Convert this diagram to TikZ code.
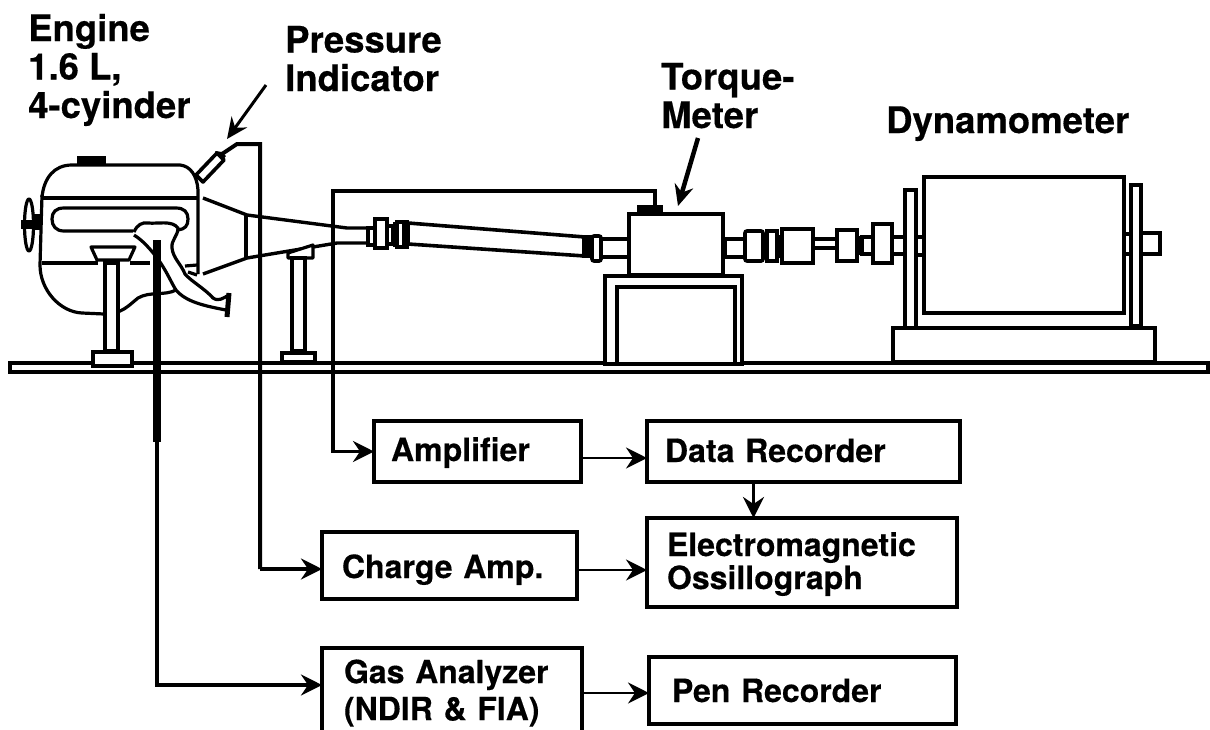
\documentclass[tikz,border=0pt]{standalone}
\usepackage{fontspec}
\setmainfont[BoldFeatures={FakeBold=0.35}]{TeX Gyre Heros}
\usetikzlibrary{arrows.meta}
\tikzset{
  boxnode/.style n args={3}{draw=black,line width=3.6pt,rectangle,outer sep=0pt,anchor=north west,
    minimum width=#1pt,minimum height=#2pt,inner xsep=#3pt,inner ysep=0pt,
    text width={(#1-2*#3)*1pt},align=left,font=\fontsize{32}{33}\selectfont\bfseries},
  titlelabel/.style={anchor=base west,inner sep=0pt,align=left,font=\fontsize{36.5}{38.5}\selectfont\bfseries},
  wire/.style={draw=black,line width=3.4pt,line join=miter},
  flow/.style={wire,-{Stealth[length=21pt,width=21pt,inset=7pt]}},
  thinflow/.style={flow,line width=2.8pt},
  part/.style={draw=black,line width=3.6pt,fill=white,line join=miter},
  thinpart/.style={draw=black,line width=3.2pt,line join=round},
  blob/.style={fill=black,draw=none}
}
\begin{document}
\begin{tikzpicture}[x=1pt,y=-1pt]
\clip (0,0) rectangle (1210,729);
\fill[white] (0,0) rectangle (1210,729);

% ground
\draw[part] (10,363) rectangle (1208,372);

% ---- engine ----
\draw[thinpart] (42,197) .. controls (44,178) and (54,165) .. (72,165) -- (180,165)
  .. controls (190,166) and (197,175) .. (198,190) -- (198,274);
\draw[thinpart] (42,195) -- (40,265) .. controls (40,290) and (60,312) .. (82,313) -- (104,314)
  .. controls (122,314) and (128,306) .. (138,298) .. controls (150,291) and (165,296) .. (176,290);
\fill[blob] (77,156) rectangle (106,166);
\draw[thinpart] (42,198) -- (198,198);
\draw[thinpart] (42,263) -- (98,263);
\draw[thinpart] (130,263) -- (150,263);
\draw[thinpart] (133,231) -- (64,231) .. controls (56,231) and (52,226) .. (52,219)
  .. controls (52,212) and (56,208) .. (64,208) -- (176,208)
  .. controls (184,208) and (188,212) .. (188,219) .. controls (188,226) and (185,229) .. (178,230);
% manifold
\draw[thinpart] (134,232) .. controls (137,225) and (142,222) .. (148,223) .. controls (158,224) and (172,220) .. (178,228)
  .. controls (178,236) and (171,240) .. (172,248) .. controls (173,258) and (181,264) .. (185,274)
  .. controls (192,282) and (204,288) .. (213,298) .. controls (219,302) and (223,298) .. (229,295);
\draw[thinpart] (134,235) .. controls (142,240) and (150,248) .. (160,262)
  .. controls (168,274) and (172,284) .. (176,290) .. controls (186,302) and (205,306) .. (226,310);
\draw[line width=5pt] (229,293) -- (227,317);
\draw[thinpart] (185,266) -- (197,265);
\draw[thinpart] (188,272) -- (197,275);
% flywheel
\draw[thinpart] (29,225) ellipse (4.5 and 26);
\fill[blob] (21,220) rectangle (36,229);
\fill[blob] (33,214) rectangle (42,230);
% support 1
\draw[thinpart,fill=white] (91,247) -- (135,247) -- (129,260) -- (97,260) -- cycle;
\draw[part] (105,263) rectangle (118,351);
\draw[part] (93,352) rectangle (132,366);

% cone
\draw[line width=3.4pt] (203,198) -- (247,215) -- (347,228) -- (368,228);
\draw[line width=3.4pt] (203,274) -- (247,258) -- (337,243) -- (368,243);
\draw[line width=3.4pt] (246,215) -- (246,258);

% support 2
\draw[thinpart,fill=white] (288,253) -- (313,245) -- (313,258) -- (288,258) -- cycle;
\draw[part] (292,258) rectangle (305,351);
\draw[part] (282,353) rectangle (315,362);

% driveline, left
\draw[part] (368,228) rectangle (375,245);
\draw[part] (375,219) rectangle (387,248);
\draw[part] (387,226) rectangle (393,244);
\fill[blob] (393,222) rectangle (397,247);
\draw[part] (397,222) rectangle (407,247);
\fill[blob] (402,222) rectangle (407,245);
\draw[part,line join=round] (408,223) -- (585,237) -- (585,256) -- (408,244) -- cycle;
\fill[blob] (582,235) rectangle (592,258);
\draw[part,rounded corners=2pt] (592,236) rectangle (601,261);
\draw[part] (601,239) rectangle (629,257);

% torque meter
\draw[part] (605,276) rectangle (742,364);
\draw[part] (617,287) rectangle (735,364);
\draw[part] (629,214) rectangle (723,275);
\fill[blob] (637,205) rectangle (663,214);

% driveline, right
\draw[part] (723,239) rectangle (745,257);
\fill[blob] (723,238) rectangle (727,256);
\draw[part,rounded corners=2pt] (745,231) rectangle (763,261);
\draw[part] (767,231) rectangle (777,261);
\fill[blob] (777,235) rectangle (782,258);
\draw[part] (782,229) rectangle (813,263);
\draw[part] (813,239) rectangle (837,248);
\draw[part] (837,230) rectangle (857,261);
\fill[blob] (857,236) rectangle (862,255);
\draw[part] (862,237) rectangle (873,254);
\draw[part] (873,224) rectangle (892,263);
\draw[part] (892,237) rectangle (905,254);
\draw[part] (916,237) rectangle (924,255);

% dynamometer
\draw[part] (893,328) rectangle (1155,362);
\draw[part] (905,190) rectangle (916,328);
\draw[part] (924,177) rectangle (1124,313);
\draw[part] (1124,234) rectangle (1131,254);
\draw[part] (1131,185) rectangle (1141,326);
\draw[part] (1141,233) rectangle (1160,254);

% pressure sensor
\draw[part,line join=round] (196,175) -- (217,153) -- (224,160) -- (203,182) -- cycle;
\fill[blob] (215,151) -- (222,152) -- (226,156) -- (222,161) -- cycle;

% ---- boxes ----
\node[boxnode={207}{61}{17},text height=23pt,text depth=4pt] (amp) at (374,421) {Amplifier};
\node[boxnode={313}{61}{18},text height=23pt,text depth=2pt] (data) at (647,421) {Data Recorder};
\node[boxnode={255}{67}{20},text height=25pt,text depth=0pt] (charge) at (322,532) {Charge Amp.};
\node[boxnode={310}{89}{20}] (osc) at (647,518) {\rule{0pt}{27pt}Electromagnetic\\Ossillograph};
\node[boxnode={260}{90}{22},font=\fontsize{32}{37}\selectfont\bfseries] (gas) at (322,648) {Gas Analyzer\\(NDIR \& FIA)};
\node[boxnode={307}{67}{23},text height=23pt,text depth=0pt] (pen) at (649,657) {Pen Recorder};

% ---- labels ----
\node[titlelabel] (lengine) at (28,118) {Engine\\1.6 L,\\4-cyinder};
\node[titlelabel] (lpress) at (285,91) {Pressure\\Indicator};
\node[titlelabel] (ltorque) at (661,128) {Torque-\\Meter};
\node[titlelabel] (ldyno) at (886,133) {Dynamometer};

% ---- connectors ----
\coordinate (sensortip) at (222,154);
\coordinate (press top) at (260,144);
\coordinate (probe) at (157,240);
\coordinate (probe end) at (157,442);
\coordinate (tq pick) at (655,206);
\coordinate (tq corner) at (333,191);
\coordinate (press from) at (266,85);
\coordinate (press to) at (227,139);
\coordinate (torque from) at (698,138);
\coordinate (torque to) at (678,206);

\draw[wire,line width=4pt] (sensortip) -- (237,144) -- (press top) -- (260,569);
\draw[flow,line width=4pt] (260,569) -- (charge.west |- 0,569);
\draw[flow] (tq pick) -- (655,191) -- (tq corner) |- (amp.west);
\draw[line width=8pt] (probe) -- (probe end);
\draw[flow] (probe end) |- (gas.west |- 0,685);
\draw[thinflow] ([yshift=-6.5pt]amp.east) -- ([yshift=-6.5pt]amp.east -| data.west);
\draw[flow] ([xshift=-50pt]data.south) -- ([xshift=-50pt]data.south |- osc.north);
\draw[thinflow] ([yshift=-4.5pt]charge.east) -- ([yshift=-4.5pt]charge.east -| osc.west);
\draw[thinflow] (gas.east) -- (gas.east -| pen.west);
\draw[wire,line width=3pt,-{Stealth[length=21pt,width=19pt,inset=7pt]}] (press from) -- (press to);
\draw[wire,line width=4.5pt,-{Stealth[length=21pt,width=19pt,inset=7pt]}] (torque from) -- (torque to);
\end{tikzpicture}
\end{document}
